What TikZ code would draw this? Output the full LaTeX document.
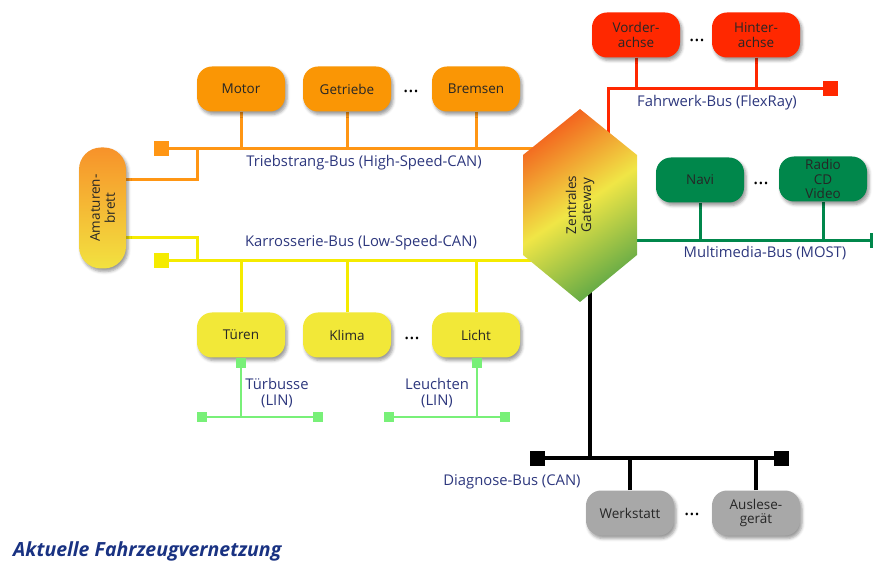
\documentclass[tikz,border=0pt]{standalone}
\usepackage{fontspec}
\setmainfont{Open Sans}
\usetikzlibrary{shadows.blur,calc}
\pgfdeclarelayer{background}
\pgfsetlayers{background,main}
\definecolor{ecuOrange}{RGB}{250,150,5}
\definecolor{busOrange}{RGB}{255,150,20}
\definecolor{ecuYellow}{RGB}{242,232,56}
\definecolor{busYellow}{RGB}{245,235,0}
\definecolor{ecuRed}{RGB}{255,40,0}
\definecolor{ecuGreen}{RGB}{0,135,75}
\definecolor{linGreen}{RGB}{120,240,120}
\definecolor{ecuGray}{RGB}{168,168,168}
\definecolor{labelblue}{RGB}{45,55,125}
\definecolor{titleblue}{RGB}{25,50,130}
\definecolor{gwOrange}{RGB}{243,100,30}
\definecolor{gwYellow}{RGB}{240,230,70}
\definecolor{gwGreen}{RGB}{100,170,70}
\definecolor{ambTop}{RGB}{247,146,42}
\definecolor{ambBot}{RGB}{242,226,64}
\begin{document}
\begin{tikzpicture}[x=1pt,y=-1pt,
  ecu/.style={rectangle, rounded corners=15pt, minimum width=88pt, minimum height=45pt,
    inner sep=0pt, align=center, font=\fontsize{13.5}{14.5}\selectfont, text=black!85,
    blur shadow={shadow xshift=2pt, shadow yshift=-3pt, shadow blur radius=3pt, shadow opacity=40}},
  term/.style={rectangle, minimum size=15pt, inner sep=0pt},
  linterm/.style={rectangle, minimum size=10pt, inner sep=0pt, fill=linGreen},
  buslbl/.style={text=labelblue, font=\fontsize{14.8}{16}\selectfont, inner sep=0pt, align=center},
  dotsl/.style={font=\fontsize{20}{20}\selectfont, inner sep=0pt},
  rottext/.style={rotate=90, align=center, font=\fontsize{13.5}{15}\selectfont, text=black!85},
  obus/.style={draw=busOrange, line width=3pt},
  ybus/.style={draw=busYellow, line width=3pt},
  rbus/.style={draw=ecuRed, line width=3pt},
  gbus/.style={draw=ecuGreen, line width=3pt},
  kbus/.style={draw=black, line width=3.5pt},
  lbus/.style={draw=linGreen, line width=2pt},
]
\useasboundingbox (0,0) rectangle (873,561);

% ---- Triebstrang (orange)
\node[ecu, fill=ecuOrange] (motor) at (241,89) {Motor};
\node[ecu, fill=ecuOrange] (getr) at (347,89) {Getriebe};
\node[ecu, fill=ecuOrange] (brems) at (476,89) {Bremsen};
\node[dotsl] (dO) at (411,91) {\dots};
\node[term, fill=busOrange] (tO) at (161,149) {};
\coordinate (gO) at (580,149);
\coordinate (jO) at (197,149);

% ---- Amaturenbrett
\node[rectangle, rounded corners=22pt, minimum width=47pt, minimum height=121pt, inner sep=0pt,
  top color=ambTop, bottom color=ambBot,
  blur shadow={shadow xshift=2pt, shadow yshift=-3pt, shadow blur radius=3pt, shadow opacity=40}]
  (amb) at (102.5,208) {};
\node[rottext] (ambt) at (amb) {Amaturen-\\brett};

% ---- Karrosserie (yellow)
\node[ecu, fill=ecuYellow] (tueren) at (241,335) {Türen};
\node[ecu, fill=ecuYellow] (klima) at (347,335) {Klima};
\node[ecu, fill=ecuYellow] (licht) at (476,335) {Licht};
\node[dotsl] (dY) at (412,338) {\dots};
\node[term, fill=busYellow] (tY) at (161,261) {};
\coordinate (gY) at (580,261);
\coordinate (jY) at (197,261);

% ---- LIN
\node[linterm] (lT) at (241,363) {};
\node[linterm] (lT1) at (202,417) {};
\node[linterm] (lT2) at (318,417) {};
\node[linterm] (lL) at (477,363) {};
\node[linterm] (lL1) at (389,417) {};
\node[linterm] (lL2) at (505,417) {};

% ---- Fahrwerk (red)
\node[ecu, fill=ecuRed] (vorder) at (636,35) {Vorder-\\achse};
\node[ecu, fill=ecuRed] (hinter) at (756,35) {Hinter-\\achse};
\node[dotsl] (dR) at (697,40) {\dots};
\node[term, fill=ecuRed] (tR) at (830,89) {};
\coordinate (gR) at (608,140);

% ---- Multimedia (green)
\node[ecu, fill=ecuGreen] (navi) at (700,180) {Navi};
\node[ecu, fill=ecuGreen, font=\fontsize{13.5}{14.5}\selectfont] (radio) at (823,179) {Radio\\CD\\Video};
\node[dotsl] (dG) at (761,183) {\dots};
\node[term, fill=ecuGreen] (tG) at (877.5,241) {};
\coordinate (gG) at (600,241);

% ---- Diagnose (black)
\node[ecu, fill=ecuGray] (werk) at (630,513) {Werkstatt};
\node[ecu, fill=ecuGray] (ausl) at (756,513) {Auslese-\\gerät};
\node[dotsl] (dK) at (692,514) {\dots};
\node[term, fill=black] (tK1) at (537,458) {};
\node[term, fill=black] (tK2) at (781,458) {};
\coordinate (gK) at (590,280);

% ---- bus lines
\begin{pgfonlayer}{background}
\draw[obus] (tO.center) -- (gO);
\draw[obus] (motor.south) -- (motor.south |- tO);
\draw[obus] (getr.south) -- (getr.south |- tO);
\draw[obus] (brems.south) -- (brems.south |- tO);
\draw[obus] ($(amb.east)+(0,-28)$) -| (jO);
\draw[ybus] (tY.center) -- (gY);
\draw[ybus] (tueren.north) -- (tueren.north |- tY);
\draw[ybus] (klima.north) -- (klima.north |- tY);
\draw[ybus] (licht.north) -- (licht.north |- tY);
\draw[ybus] ($(amb.east)+(0,30)$) -| (jY);
\draw[lbus] (lT.center) -- (lT.center |- lT1);
\draw[lbus] (lT1.center) -- (lT2.center);
\draw[lbus] (lL.center) -- (lL.center |- lL1);
\draw[lbus] (lL1.center) -- (lL2.center);
\draw[rbus] (gR) |- (tR.center);
\draw[rbus] (vorder.south) -- (vorder.south |- tR);
\draw[rbus] (hinter.south) -- (hinter.south |- tR);
\draw[gbus] (gG) -- (tG.center);
\draw[gbus] (navi.south) -- (navi.south |- tG);
\draw[gbus] (radio.south) -- (radio.south |- tG);
\draw[kbus] (gK) -- (gK |- tK1);
\draw[kbus] (tK1.center) -- (tK2.center);
\draw[kbus] (werk.north) -- (werk.north |- tK1);
\draw[kbus] (ausl.north) -- (ausl.north |- tK1);
\end{pgfonlayer}

% ---- Gateway
\path[top color=gwOrange, bottom color=gwGreen, middle color=gwYellow, shading angle=34]
  (580,109) -- (637,155) -- (637,255) -- (580,302) -- (523,255) -- (523,155) -- cycle;
\node[rottext] (gw) at (580,205) {Zentrales\\Gateway};

% ---- labels
\node[buslbl] (lbO) at (364,163) {Triebstrang-Bus (High-Speed-CAN)};
\node[buslbl] (lbY) at (361,243) {Karrosserie-Bus (Low-Speed-CAN)};
\node[buslbl] (lbR) at (717,103) {Fahrwerk-Bus (FlexRay)};
\node[buslbl] (lbG) at (765,253) {Multimedia-Bus (MOST)};
\node[buslbl] (lbK) at (512,482) {Diagnose-Bus (CAN)};
\node[buslbl] (lbT) at (277,393) {Türbusse\\(LIN)};
\node[buslbl] (lbL) at (437,393) {Leuchten\\(LIN)};

\node[anchor=base west, inner sep=0pt, text=titleblue, font=\fontsize{19.5}{22}\selectfont\bfseries\itshape] (title) at (13,556) {Aktuelle Fahrzeugvernetzung};
\end{tikzpicture}
\end{document}
